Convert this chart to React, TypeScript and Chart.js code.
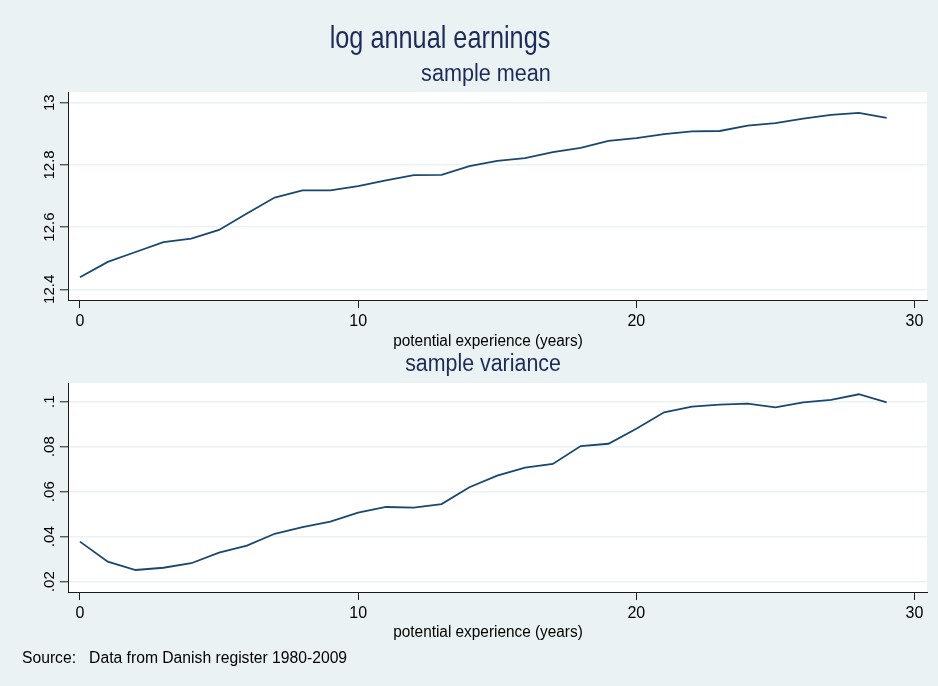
import React, { useEffect, useRef } from "react";
import { Chart, registerables } from "chart.js";

Chart.register(...registerables);

// Years of potential labour-market experience
const experience = [
  0, 1, 2, 3, 4, 5, 6, 7, 8, 9, 10, 11, 12, 13, 14, 15, 16, 17, 18, 19, 20, 21,
  22, 23, 24, 25, 26, 27, 28, 29,
];

// Sample mean of log annual earnings by experience
const meanLogEarnings = [
  12.439, 12.488, 12.52, 12.552, 12.563, 12.591, 12.644, 12.695, 12.718, 12.718,
  12.732, 12.75, 12.767, 12.768, 12.796, 12.813, 12.822, 12.841, 12.855, 12.877,
  12.886, 12.899, 12.908, 12.909, 12.926, 12.934, 12.949, 12.961, 12.967, 12.951,
];

// Sample variance of log annual earnings by experience
const varLogEarnings = [
  0.0378, 0.0289, 0.0252, 0.0262, 0.0282, 0.0329, 0.036, 0.0413, 0.0442, 0.0467,
  0.0507, 0.0532, 0.0529, 0.0545, 0.062, 0.0671, 0.0707, 0.0723, 0.0803, 0.0813,
  0.088, 0.0953, 0.0978, 0.0987, 0.0991, 0.0975, 0.0997, 0.1008, 0.1033, 0.0997,
];

const xTicks = [0, 10, 20, 30];
const meanTicks = [12.4, 12.6, 12.8, 13];
const meanTickLabels = ["12.4", "12.6", "12.8", "13"];
const varTicks = [0.02, 0.04, 0.06, 0.08, 0.1];
const varTickLabels = [".02", ".04", ".06", ".08", ".1"];

const FONT = "'Liberation Sans', Arial, Helvetica, sans-serif";
const BG = "#EAF2F3";
const GRID = "#EAF2F3";
const AXIS = "#1b1b1b";
const LINE = "#1A476F";
const NAVY = "#1C2B57";

const X_MIN = -0.43;
const X_MAX = 30.45;

const plotBackground = {
  id: "plotBackground",
  beforeDraw(chart: any) {
    const { ctx, chartArea } = chart;
    ctx.save();
    ctx.fillStyle = "#ffffff";
    ctx.fillRect(chartArea.left, chartArea.top, chartArea.width, chartArea.height);
    ctx.restore();
  },
};

function panelConfig(
  values: number[],
  yMin: number,
  yMax: number,
  yTicks: number[],
  yLabels: string[],
  yLabelPadding: number,
  padding: { top: number; right: number; bottom: number; left: number }
): any {
  return {
    type: "line",
    data: {
      datasets: [
        {
          data: experience.map((x, i) => ({ x, y: values[i] })),
          borderColor: LINE,
          borderWidth: 1.8,
          pointRadius: 0,
          fill: false,
          tension: 0,
        },
      ],
    },
    options: {
      animation: false,
      responsive: false,
      devicePixelRatio: 1,
      layout: { padding },
      plugins: {
        legend: { display: false },
        tooltip: { enabled: false },
        title: { display: false },
      },
      scales: {
        x: {
          type: "linear",
          min: X_MIN,
          max: X_MAX,
          afterBuildTicks: (scale: any) => {
            scale.ticks = xTicks.map((v) => ({ value: v }));
          },
          afterFit: (scale: any) => {
            scale.height = 50;
          },
          grid: {
            drawOnChartArea: false,
            drawTicks: true,
            tickLength: 8,
            tickColor: AXIS,
            tickWidth: 1,
          },
          border: { display: true, color: AXIS, width: 1 },
          ticks: {
            color: "#000",
            font: { family: FONT, size: 16 },
            padding: 4,
            maxRotation: 0,
            autoSkip: false,
            callback: (v: number) => String(v),
          },
        },
        y: {
          type: "linear",
          min: yMin,
          max: yMax,
          afterBuildTicks: (scale: any) => {
            scale.ticks = yTicks.map((v) => ({ value: v }));
          },
          afterFit: (scale: any) => {
            scale.width = 68;
          },
          grid: {
            color: GRID,
            lineWidth: 1.6,
            drawTicks: true,
            tickLength: 8,
            tickColor: AXIS,
            tickWidth: 1,
          },
          border: { display: true, color: AXIS, width: 1 },
          ticks: {
            color: "#000",
            font: { family: FONT, size: 15 },
            padding: yLabelPadding,
            minRotation: 90,
            maxRotation: 90,
            crossAlign: "center",
            autoSkip: false,
            callback: (v: number) => {
              const i = yTicks.findIndex((t) => Math.abs(t - v) < 1e-9);
              return i >= 0 ? yLabels[i] : "";
            },
          },
        },
      },
    },
    plugins: [plotBackground],
  };
}

function Label(props: {
  text: string;
  left: number;
  top: number;
  size: number;
  color: string;
  scaleX: number;
  center?: boolean;
}) {
  const { text, left, top, size, color, scaleX, center } = props;
  return (
    <div
      style={{
        position: "absolute",
        left,
        top,
        fontFamily: FONT,
        fontSize: size,
        lineHeight: 1,
        color,
        whiteSpace: "pre",
        transformOrigin: center ? "50% 50%" : "0 50%",
        transform: center
          ? `translateX(-50%) scaleX(${scaleX})`
          : `scaleX(${scaleX})`,
      }}
    >
      {text}
    </div>
  );
}

export default function App() {
  const topRef = useRef<HTMLCanvasElement | null>(null);
  const bottomRef = useRef<HTMLCanvasElement | null>(null);

  useEffect(() => {
    const top = new Chart(
      topRef.current as HTMLCanvasElement,
      panelConfig(meanLogEarnings, 12.3656, 13.0344, meanTicks, meanTickLabels, -4, {
        top: 92,
        right: 11,
        bottom: 0,
        left: 0,
      })
    );
    const bottom = new Chart(
      bottomRef.current as HTMLCanvasElement,
      panelConfig(varLogEarnings, 0.01542, 0.1083, varTicks, varTickLabels, 0, {
        top: 33,
        right: 11,
        bottom: 44,
        left: 0,
      })
    );
    return () => {
      top.destroy();
      bottom.destroy();
    };
  }, []);

  return (
    <div
      style={{
        position: "absolute",
        left: 0,
        top: 0,
        width: 938,
        height: 686,
        background: BG,
        overflow: "hidden",
      }}
    >
      <canvas
        ref={topRef}
        width={938}
        height={350}
        style={{ position: "absolute", left: 0, top: 0, width: 938, height: 350 }}
      />
      <canvas
        ref={bottomRef}
        width={938}
        height={336}
        style={{ position: "absolute", left: 0, top: 350, width: 938, height: 336 }}
      />
      <Label text="log annual earnings" left={440} top={21.2} size={32} color={NAVY} scaleX={0.79} center />
      <Label text="sample mean" left={486} top={62.2} size={23} color={NAVY} scaleX={0.94} center />
      <Label text="potential experience (years)" left={488.3} top={333.2} size={16} color="#000" scaleX={0.96} center />
      <Label text="sample variance" left={483} top={352.2} size={23} color={NAVY} scaleX={0.93} center />
      <Label text="potential experience (years)" left={488.3} top={623.8} size={16} color="#000" scaleX={0.96} center />
      <Label
        text="Source:   Data from Danish register 1980-2009"
        left={21.7}
        top={649.8}
        size={16}
        color="#000"
        scaleX={0.98}
      />
    </div>
  );
}
